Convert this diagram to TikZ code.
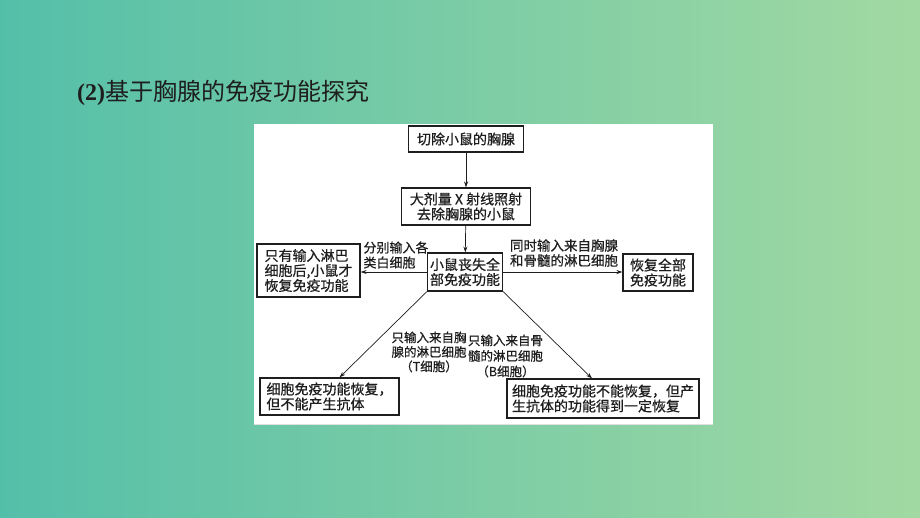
\documentclass[tikz,border=0pt]{standalone}
\usepackage{fontspec}
\setmainfont{Liberation Serif}
\newfontfamily\cjk[FakeBold=0.6]{Noto Sans CJK SC}
\newfontfamily\cjktitle{Noto Sans CJK SC}
\usetikzlibrary{arrows.meta}
\definecolor{bgL}{RGB}{84,191,169}
\definecolor{bgR}{RGB}{162,217,162}
\definecolor{ink}{RGB}{30,30,30}
\begin{document}
\begin{tikzpicture}[x=1pt,y=-1pt,
  box/.style={draw=ink, line width=1.1pt, fill=white, inner sep=0pt, text=ink,
    font=\cjk\fontsize{14}{15}\selectfont, align=center},
  lbox/.style={box, align=left},
  lab/.style={inner sep=0pt, text=ink, font=\cjk\fontsize{13}{15}\selectfont},
  arr/.style={-{Stealth[length=6pt,width=4pt]}, line width=0.7pt, draw=ink}]
\useasboundingbox (0,0) rectangle (920,517);
\shade[left color=bgL, right color=bgR] (0,0) rectangle (920,517);
\fill[white] (254,124) rectangle (713,424);
\draw[black!12, line width=1pt] (254,424) -- (713,424);

\node[anchor=west, inner sep=0pt, text=ink, font=\fontsize{24}{28}\selectfont] (title) at (77,93)
  {\textbf{(2)}{\cjktitle 基于胸腺的免疫功能探究}};

\node[box, minimum width=115, minimum height=26] (b1) at (466,139) {切除小鼠的胸腺};
\node[box, minimum width=129, minimum height=37] (b2) at (466,206.5) {大剂量 X 射线照射\\去除胸腺的小鼠};
\node[box, minimum width=75, minimum height=38] (b3) at (465,272) {小鼠丧失全\\部免疫功能};
\node[lbox, minimum width=103, minimum height=53] (bl) at (308.5,270.5) {只有输入淋巴\\细胞后,小鼠才\\恢复免疫功能};
\node[box, minimum width=70, minimum height=37] (br) at (658,272.5) {恢复全部\\免疫功能};
\node[lbox, minimum width=139, minimum height=37] (bbl) at (329.5,396.5) {细胞免疫功能恢复，\\但不能产生抗体};
\node[lbox, minimum width=192, minimum height=39] (bbr) at (603,398.5) {细胞免疫功能不能恢复，但产\\生抗体的功能得到一定恢复};

\node[lab, align=left] (l1) at (396,255) {分别输入各\\类白细胞};
\node[lab, align=center, font=\cjk\fontsize{13.5}{15}\selectfont] (l2) at (564,253) {同时输入来自胸腺\\和骨髓的淋巴细胞};
\node[lab, align=center, font=\cjk\fontsize{12.5}{14.5}\selectfont] (l3) at (429,352) {只输入来自胸\\腺的淋巴细胞\\（T细胞）};
\node[lab, align=center, font=\cjk\fontsize{12.5}{15.5}\selectfont] (l4) at (505.5,356) {只输入来自骨\\髓的淋巴细胞\\（B细胞）};

\draw[arr] (b1) -- (b2);
\draw[arr] (b2) -- (b3);
\draw[arr] (b3.west) -- (bl.east |- b3.west);
\draw[arr] (b3.east) -- (br.west |- b3.east);
\draw[arr] (b3.south west) -- ([xshift=10pt]bbl.north);
\draw[arr] (b3.south east) -- ([xshift=-11pt]bbr.north);
\end{tikzpicture}
\end{document}
